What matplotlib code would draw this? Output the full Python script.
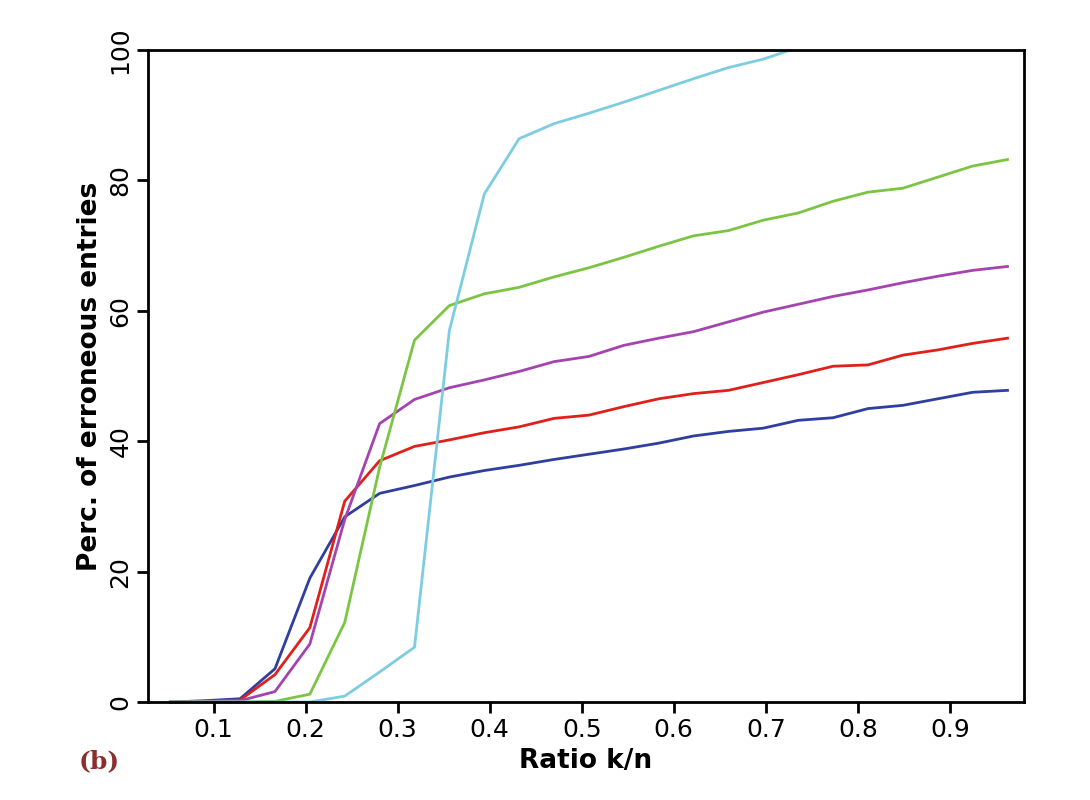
import matplotlib.pyplot as plt
import numpy as np

# ratio k/n sample points
ratio = [0.053 + 0.0379 * i for i in range(25)]

blue = [0, 0.2, 0.5, 5.1, 19, 28.4, 32, 33.2, 34.5, 35.5, 36.3, 37.2, 38, 38.8, 39.7,
        40.8, 41.5, 42, 43.2, 43.6, 45, 45.5, 46.5, 47.5, 47.8]
red = [0, 0.1, 0.3, 4.2, 11.4, 30.8, 37, 39.2, 40.2, 41.3, 42.2, 43.5, 44, 45.3, 46.5,
       47.3, 47.8, 49, 50.2, 51.5, 51.7, 53.2, 54, 55, 55.8]
purple = [0, 0.1, 0.2, 1.6, 8.9, 28, 42.7, 46.4, 48.2, 49.4, 50.7, 52.2, 53, 54.7, 55.8,
          56.8, 58.3, 59.8, 61, 62.2, 63.2, 64.3, 65.3, 66.2, 66.8]
green = [0, 0, 0, 0.1, 1.2, 12.2, 36, 55.5, 60.8, 62.6, 63.6, 65.2, 66.6, 68.2, 69.9,
         71.5, 72.3, 73.9, 75, 76.8, 78.2, 78.8, 80.5, 82.2, 83.2]
cyan = [0, 0, 0, 0, 0, 0.9, 4.6, 8.4, 57, 77.9, 86.4, 88.7, 90.3, 92, 93.8, 95.6,
        97.3, 98.6, 100.4]

fig = plt.figure(figsize=(10.9, 8), dpi=100)
ax = fig.add_axes([0.136, 0.1225, 0.803, 0.815])

ax.plot(ratio, blue, color='#2e3fa0', lw=2, clip_on=False)
ax.plot(ratio, red, color='#e0201b', lw=2, clip_on=False)
ax.plot(ratio, purple, color='#a543b0', lw=2, clip_on=False)
ax.plot(ratio, green, color='#7cc443', lw=2, clip_on=False)
ax.plot(ratio[:len(cyan)], cyan, color='#7dcde0', lw=2)

ax.set_xlim(0.029, 0.980)
ax.set_ylim(0, 100)
ax.set_xticks(np.arange(0.1, 0.95, 0.1))
ax.set_xticklabels(['0.1', '0.2', '0.3', '0.4', '0.5', '0.6', '0.7', '0.8', '0.9'])
ax.set_yticks([0, 20, 40, 60, 80, 100])
ax.tick_params(labelsize=18, width=2, length=8, direction='out')
for lab in ax.get_yticklabels():
    lab.set_rotation(90)
    lab.set_va('center')
for s in ax.spines.values():
    s.set_linewidth(2)

ax.set_xlabel('Ratio k/n', fontsize=19, fontweight='bold')
ax.set_ylabel('Perc. of erroneous entries', fontsize=19, fontweight='bold')
fig.text(0.072, 0.04, '(b)', color='#8b2e2e', fontsize=18, fontweight='bold', family='serif')

plt.savefig('out.png', dpi=100)
